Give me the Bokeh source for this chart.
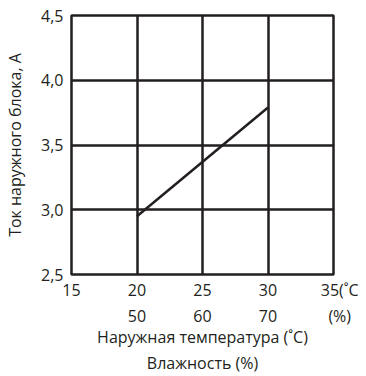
from bokeh.plotting import figure
from bokeh.models import Range1d, LinearAxis, FixedTicker
from bokeh.embed import file_html
from bokeh.resources import INLINE

# data
temp_ticks = [15, 20, 25, 30, 35]
temp_labels = ["15", "20", "25", "30", "\u00a0\u00a0\u00a035(˚C"]
hum_ticks = [20, 25, 30, 35]
hum_labels = ["50", "60", "70", "\u00a0\u00a0\u00a0(%)"]
y_ticks = [2.5, 3.0, 3.5, 4.0, 4.5]
y_labels = ["2,5", "3,0", "3,5", "4,0", "4,5"]
line_x = [20, 30]
line_y = [2.95, 3.79]

FONT = "Open Sans"
INK = "#231f20"

p = figure(width=366, height=376, output_backend="svg", toolbar_location=None,
           x_range=Range1d(15, 35), y_range=Range1d(2.5, 4.5),
           min_border_left=71, min_border_top=15, min_border_right=33, min_border_bottom=100)
p.background_fill_color = "white"
p.border_fill_color = "white"
p.outline_line_color = INK
p.outline_line_width = 2.5

p.xgrid.ticker = FixedTicker(ticks=temp_ticks)
p.ygrid.ticker = FixedTicker(ticks=y_ticks)
for g in (p.xgrid, p.ygrid):
    g.grid_line_color = INK
    g.grid_line_width = 2.5

p.line(line_x, line_y, line_color=INK, line_width=2.5)

def style_axis(ax):
    ax.axis_line_color = None
    ax.major_tick_line_color = None
    ax.minor_tick_line_color = None
    ax.major_tick_in = 0
    ax.major_tick_out = 0
    ax.minor_tick_in = 0
    ax.minor_tick_out = 0
    ax.major_label_text_font = FONT
    ax.major_label_text_font_size = "16px"
    ax.major_label_text_color = INK
    ax.axis_label_text_font = FONT
    ax.axis_label_text_font_size = "16px"
    ax.axis_label_text_font_style = "normal"
    ax.axis_label_text_color = INK

xa = p.xaxis[0]
xa.ticker = FixedTicker(ticks=temp_ticks)
xa.major_label_overrides = {t: l for t, l in zip(temp_ticks, temp_labels)}
xa.major_label_standoff = 4
style_axis(xa)

xa2 = LinearAxis(ticker=FixedTicker(ticks=hum_ticks),
                 major_label_overrides={t: l for t, l in zip(hum_ticks, hum_labels)},
                 axis_label="Наружная температура (˚C)\nВлажность (%)")
style_axis(xa2)
xa2.major_label_standoff = 1
xa2.axis_label_standoff = -4
p.add_layout(xa2, "below")

ya = p.yaxis[0]
ya.ticker = FixedTicker(ticks=y_ticks)
ya.major_label_overrides = {t: l for t, l in zip(y_ticks, y_labels)}
ya.major_label_standoff = 8
ya.axis_label = "Ток наружного блока, А"
ya.axis_label_standoff = 12
style_axis(ya)

open("out.html", "w").write(file_html(p, INLINE))
